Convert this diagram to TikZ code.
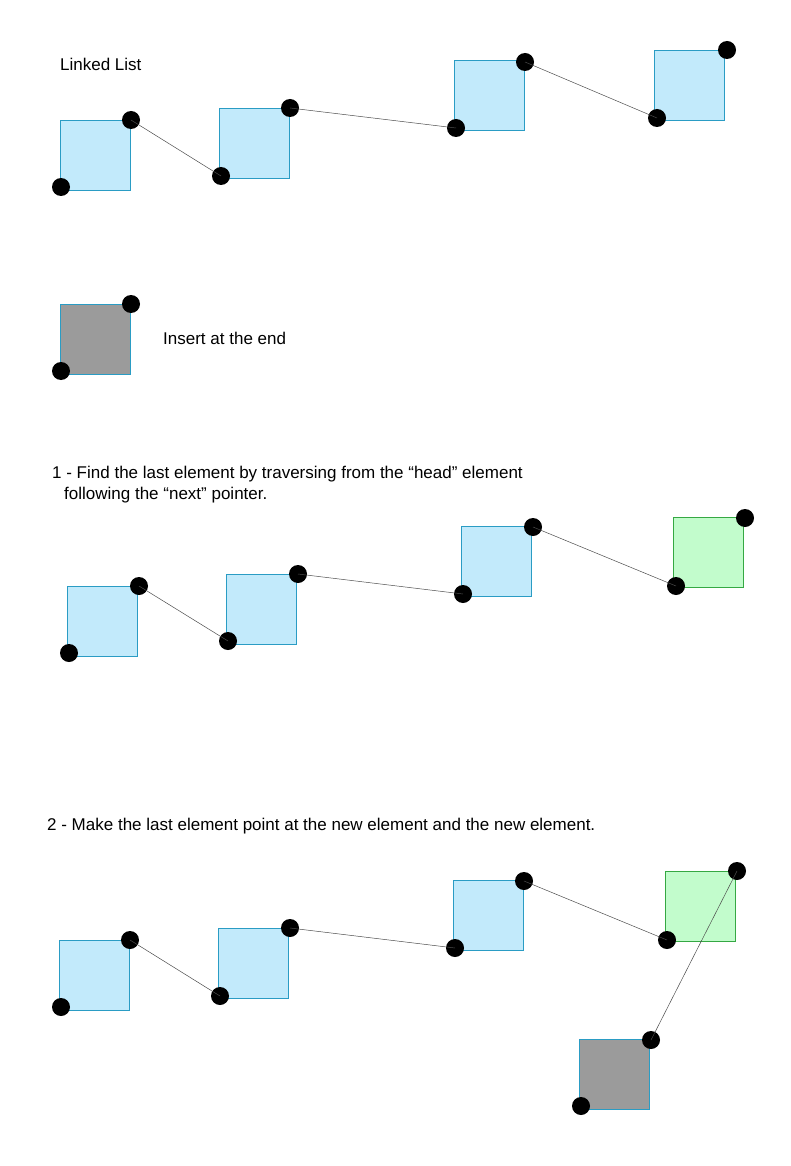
\documentclass[tikz,border=0pt]{standalone}
\usepackage{fontspec}
\setmainfont{Liberation Sans}
\definecolor{bfill}{HTML}{C2EAFB}
\definecolor{bdraw}{HTML}{2A9CC4}
\definecolor{gfill}{HTML}{C2FCCC}
\definecolor{gdraw}{HTML}{35A843}
\definecolor{grfill}{HTML}{9B9B9B}
\begin{document}
\begin{tikzpicture}[x=1pt,y=-1pt,
  sq/.style={minimum size=70pt,inner sep=0pt,draw=bdraw,fill=bfill,line width=0.6pt},
  gsq/.style={sq,draw=gdraw,fill=gfill},
  grsq/.style={sq,fill=grfill},
  dot/.style={circle,fill=black,minimum size=18pt,inner sep=0pt},
  ln/.style={draw=black!70,line width=0.5pt},
  txt/.style={anchor=west,font=\fontsize{17}{21}\selectfont,inner sep=0pt,align=left}]
\useasboundingbox (0,0) rectangle (791,1166);
% row 1
\node[txt] (t0) at (60,64) {Linked List};
\node[sq] (a1) at (95,155) {}; \node[dot] (a1l) at (61,187) {}; \node[dot] (a1r) at (131,120) {};
\node[sq] (a2) at (254,143) {}; \node[dot] (a2l) at (221,176) {}; \node[dot] (a2r) at (290,108) {};
\node[sq] (a3) at (489,95) {}; \node[dot] (a3l) at (456,128) {}; \node[dot] (a3r) at (525,62) {};
\node[sq] (a4) at (689.5,85.5) {}; \node[dot] (a4l) at (657,118) {}; \node[dot] (a4r) at (727,50) {};
\draw[ln] (a1r.center)--(a2l.center); \draw[ln] (a2r.center)--(a3l.center); \draw[ln] (a3r.center)--(a4l.center);
% new element
\node[grsq] (n) at (95,339) {}; \node[dot] (nl) at (61,371) {}; \node[dot] (nr) at (131,304) {};
\node[txt] (t1) at (163,338) {Insert at the end};
% row 2
\node[txt] (t2) at (52,485) {1 - Find the last element by traversing from the “head” element\\\hspace*{12pt}following the “next” pointer.};
\node[sq] (b1) at (102,621) {}; \node[dot] (b1l) at (69,653) {}; \node[dot] (b1r) at (139,586) {};
\node[sq] (b2) at (261,609) {}; \node[dot] (b2l) at (228,641) {}; \node[dot] (b2r) at (298,574) {};
\node[sq] (b3) at (496,561) {}; \node[dot] (b3l) at (463,594) {}; \node[dot] (b3r) at (533,527) {};
\node[gsq] (b4) at (708.5,552.5) {}; \node[dot] (b4l) at (676,586) {}; \node[dot] (b4r) at (745,518) {};
\draw[ln] (b1r.center)--(b2l.center); \draw[ln] (b2r.center)--(b3l.center); \draw[ln] (b3r.center)--(b4l.center);
% row 3
\node[txt] (t3) at (47,826) {2 - Make the last element point at the new element and the new element.};
\node[sq] (c1) at (94,975) {}; \node[dot] (c1l) at (61,1007) {}; \node[dot] (c1r) at (130,940) {};
\node[sq] (c2) at (253,963) {}; \node[dot] (c2l) at (220,996) {}; \node[dot] (c2r) at (290,928) {};
\node[sq] (c3) at (488,915) {}; \node[dot] (c3l) at (455,948) {}; \node[dot] (c3r) at (524,881) {};
\node[gsq] (c4) at (700.5,906.5) {}; \node[dot] (c4l) at (667,940) {}; \node[dot] (c4r) at (737,871) {};
\node[grsq] (c5) at (614,1074) {}; \node[dot] (c5l) at (581,1106) {}; \node[dot] (c5r) at (651,1040) {};
\draw[ln] (c1r.center)--(c2l.center); \draw[ln] (c2r.center)--(c3l.center); \draw[ln] (c3r.center)--(c4l.center);
\draw[ln] (c4r.center)--(c5r.center);
\end{tikzpicture}
\end{document}
